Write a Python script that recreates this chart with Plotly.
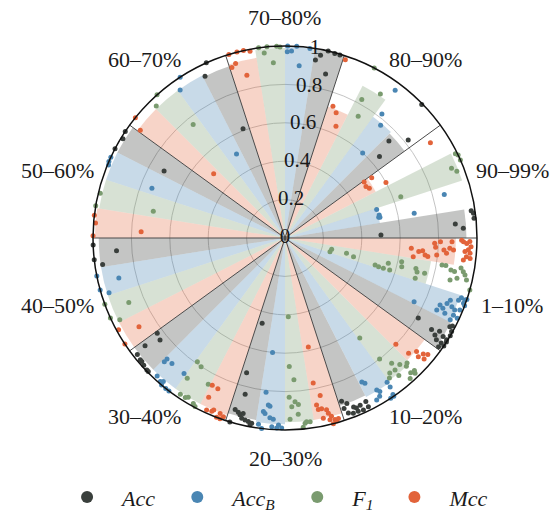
import math
import plotly.graph_objects as go

categories = ["1–10%", "10–20%", "20–30%", "30–40%", "40–50%",
              "50–60%", "60–70%", "70–80%", "80–90%", "90–99%"]
metric_names = ["<i>Acc</i>", "<i>Acc<sub>B</sub></i>", "<i>F<sub>1</sub></i>", "<i>Mcc</i>"]
# order of the metric wedges inside a sector, going clockwise: Mcc, F1, AccB, Acc
wedge_slot = [3, 2, 1, 0]

point_colors = ["#3a3f3c", "#4a86b3", "#7a9b6f", "#e2633a"]
bar_colors = ["rgba(58,63,60,0.30)", "rgba(74,134,179,0.30)",
              "rgba(122,155,111,0.30)", "rgba(226,99,58,0.28)"]

# bar (shaded wedge) heights per category
bar_acc = [0.97, 0.92, 0.96, 0.97, 0.97, 0.98, 0.94, 1.0, 0.77, 0.945]
bar_accb = [0.96, 0.93, 0.97, 0.97, 0.97, 0.98, 0.95, 1.0, 0.78, 0.50]
bar_f1 = [0.77, 0.92, 0.96, 0.97, 0.97, 0.98, 0.95, 0.99, 0.89, 0.97]
bar_mcc = [0.89, 0.90, 0.96, 0.97, 0.97, 0.99, 0.95, 0.95, 0.72, 0.53]

# individual points: radial values and angular offsets (deg) inside each wedge
acc_r = [
    [0.81, 0.90, 0.93, 0.94, 0.97, 0.995, 0.975, 0.995, 0.98, 1.0, 1.0, 1.0, 0.985, 0.95, 0.98],
    [0.90, 0.92, 0.95, 0.96, 0.955, 0.95, 0.98, 0.98, 0.985, 0.98, 0.97, 0.94],
    [0.46, 0.73, 0.84, 0.93, 0.94, 0.94, 0.95, 0.975, 0.99, 0.98, 0.97, 0.966, 1.0],
    [0.83, 0.84, 0.92, 0.98, 0.985, 0.985, 0.99, 0.995, 0.995],
    [0.88, 0.96, 1.0, 1.0],
    [0.72, 1.0, 0.99, 1.0],
    [0.61, 0.94, 1.0],
    [0.94, 0.88, 0.97, 1.0, 0.995, 0.995],
    [0.74, 0.65, 0.82, 0.995],
    [0.50, 0.89, 0.93, 0.98, 0.99, 0.99],
]
acc_off = [
    [0.5, -0.5, -1.4, 0.4, -0.4, -0.7, 3.2, 2.2, -2.4, -2.7, -1.3, 0.9, 3.8, -2.4, -3.8],
    [-3.4, -2, -0.4, 0.3, 1.7, 3.8, -1.2, 0.4, 2, 3.8, -2.6, -3.4],
    [-1.5, -2.4, -0.8, -2.7, -1.5, 0.1, -0.8, 2.2, 2.9, 3.3, 1.1, 0, -3.2],
    [-3.8, -1.3, -2.9, -2.2, -0.4, 0.3, 1.5, 3.2, 3.8],
    [-0.2, 3.8, 2, -2.4],
    [2.5, 3.8, 0, -2.2],
    [-1.5, 3.8, 1.7],
    [3.8, -0.4, 2.5, 0.5, -1.6, -3.2],
    [2.5, 0.3, -2, 3.8],
    [-2.7, 0.2, -1.4, 3.8, 3, 1.5],
]
accb_r = [
    [0.75, 0.875, 0.88, 0.90, 0.91, 0.92, 0.94, 0.96, 0.96, 0.97, 0.99, 0.985, 0.99, 1.0, 1.0, 0.965, 0.99, 0.96, 0.92],
    [0.85, 0.864, 0.925, 0.94, 0.92, 0.95, 0.99, 1.0, 1.0, 0.97, 0.96],
    [0.60, 0.81, 0.874, 0.88, 0.91, 0.92, 0.94, 0.946, 0.985, 0.99, 0.99, 0.975, 0.98, 1.0],
    [0.90, 0.88, 0.88, 0.98, 0.99, 0.98, 0.88, 1.0, 1.0, 1.0],
    [0.89, 0.96, 1.0, 1.0],
    [0.74, 0.995, 1.0, 1.0],
    [0.505, 0.945, 1.0],
    [0.97, 0.975, 0.90, 1.0, 1.0, 0.995],
    [0.82, 0.77, 0.60, 0.96],
    [0.50, 0.505, 0.50, 0.506, 0.685, 0.86],
]
accb_off = [
    [-3.8, -2.9, -0.9, -1.5, 0.5, 1.9, 0.1, -0.5, 2.8, 3.8, 2.4, 0.1, 3.5, 1.8, 3.8, -2.1, -2.5, -3.8, -2.7],
    [-3.4, -2.7, -0.4, 0.2, 3.8, 3.7, 3.1, 3, 1.9, -2, -0.6],
    [-1.7, -2.5, -1.2, -0.6, -2.6, -2, -0.3, 0.8, 0.5, 2, 3.5, 2.5, -3.6, -2.5],
    [-3.8, -3.8, -1.5, -2.3, -0.5, 0.2, 3.8, 2.1, 3.3, 0.5],
    [0, 3.8, 2.2, -2.1],
    [2, 0, -1, -2.4],
    [-1.5, 3.8, 1.6],
    [3.8, 2.5, -0.2, 3.7, 1, -3],
    [2.5, 0.2, -1.9, 3.8],
    [3.8, 0.2, -1, -1.2, -2.7, 1.8],
]
f1_r = [
    [0.245, 0.25, 0.33, 0.37, 0.49, 0.51, 0.536, 0.554, 0.57, 0.62, 0.626, 0.70, 0.71, 0.71, 0.75,
     0.83, 0.85, 0.88, 0.90, 0.92, 0.93, 0.945, 0.957, 0.887, 0.97, 1.0],
    [0.65, 0.80, 0.857, 0.895, 0.89, 0.92, 0.91, 0.93, 0.96, 0.977, 0.965, 0.98, 0.89, 0.91],
    [0.41, 0.67, 0.74, 0.83, 0.854, 0.88, 0.87, 0.92, 0.945, 0.97, 0.963, 0.966, 0.99],
    [0.79, 0.80, 0.89, 0.86, 0.98, 0.98, 0.97, 0.985, 0.995],
    [0.88, 0.96, 1.0, 1.0],
    [0.70, 0.99, 1.0],
    [0.76, 0.96, 1.0],
    [1.0, 0.97, 0.915, 1.0, 1.0, 0.995],
    [0.825, 0.74, 0.90, 1.0],
    [0.64, 0.94, 0.96, 0.99, 1.0, 1.0],
]
f1_off = [
    [-3.5, -0.1, -0.4, -1.8, -3.2, -3.6, -3.6, -0.3, -3.5, 2, -0.3, 0.4, -0.9, -3.7, -0.7,
     3.7, 3.8, 2.6, 2.3, 0.3, 3.8, 2.8, 1.9, -0.8, 0.5, -2.2],
    [-3.7, -2.5, -0.1, -0.7, 1.7, 2.9, 3.8, -0.9, 2.5, 3.4, 3.8, 1.2, -2.7, -3.8],
    [-2.1, -2.6, -0.9, -3, -1, -2.2, 0.1, -0.2, -2.9, 1.7, 2.2, 3.3, 1],
    [-3.8, -1.6, -3.4, 3.8, -2.3, -0.5, 0.2, 2.5, 3.4],
    [-0.1, 3.8, 2.1, -2.3],
    [2, -0.1, 3.8],
    [-1.5, 3.8, 1.3],
    [3.4, 1.9, -0.7, 0.9, -2, -3],
    [2.5, 0.5, -2, 3.8],
    [-2.9, 0.2, -1.3, 3.8, 3.1, 1.5],
]
mcc_r = [
    [0.66, 0.70, 0.72, 0.675, 0.735, 0.78, 0.786, 0.81, 0.83, 0.845, 0.86, 0.88, 0.795, 0.75,
     0.92, 0.93, 0.947, 0.963, 0.97, 0.957, 0.94, 0.967, 0.95, 0.97, 0.936, 0.87],
    [0.80, 0.88, 0.905, 0.93, 0.94, 0.96, 0.96],
    [0.58, 0.77, 0.84, 0.885, 0.91, 0.91, 0.92, 0.94, 0.96, 0.96, 0.98, 0.99, 1.0, 0.98, 0.975],
    [0.855, 0.86, 0.92, 0.985, 0.98, 0.97, 1.0, 1.0, 0.985, 0.974],
    [0.89, 0.99, 1.0],
    [0.75, 0.99, 1.0, 1.0],
    [0.50, 0.94, 1.0],
    [1.0, 1.0, 1.0, 0.99, 0.945, 0.93, 0.87],
    [0.73, 0.705, 0.64, 0.98],
    [0.505, 0.55, 0.50, 0.51, 0.60, 0.905],
]
mcc_off = [
    [-0.1, -1.3, -0.8, -3.8, -2.4, 2.5, 1, 3.1, 0.2, -0.9, 0.9, 0.4, -1.9, -2.9,
     3.8, 3.3, 2.8, 3.4, 1.8, 0.8, 0.2, -0.2, -1.4, -1.8, -2.5, 3.2],
    [-3.3, -2.5, -0.3, -1.2, 0.5, -0.5, 1.3],
    [-1.4, -2.5, -0.9, -2.8, -2.5, -1.4, 0.1, 0.4, -1.5, 1.1, 1.9, 2.2, 1.1, 3, 0.4],
    [-3.8, -1.5, -3.1, -2, -0.4, 0, 1.6, 2.7, 3.5, 2.2],
    [-0.2, -2.6, 2],
    [2, 0, -2.3, 3.8],
    [-1.5, 3.8, 1.7],
    [3.5, 1, -1, -2.9, 2.3, 3.8, -0.3],
    [2.5, 0.3, -2, 3.8],
    [3.8, 3.3, 1, -1, -2.7, 1.7],
]

radial_ticks = [0, 0.2, 0.4, 0.6, 0.8, 1]
radial_ticktext = ["0", "0.2", "0.4", "0.6", "0.8", "1"]

FONT = "Liberation Serif"
TXT = "#1a1a1a"
W, H = 560, 514
CX, CY, RAD = 285, 238, 192   # polar disc centre and radius in pixels
n_cat = len(categories)
sector = 360 / n_cat
wedge = sector / 4
rmax = radial_ticks[-1]
RLABEL_ANGLE = 81          # direction along which radial tick labels sit
LBL_R0, LBL_HW, LBL_HH = 1.094, 0.150, 0.052   # category label box placement (radius units)


def wedge_center(k, m):
    # categories go clockwise starting just below east
    return -(sector * k) - wedge * wedge_slot[m] - wedge / 2


bars = [bar_acc, bar_accb, bar_f1, bar_mcc]
pts_r = [acc_r, accb_r, f1_r, mcc_r]
pts_off = [acc_off, accb_off, f1_off, mcc_off]

fig = go.Figure()

for m in range(4):
    fig.add_trace(go.Barpolar(
        r=bars[m],
        theta=[wedge_center(k, m) for k in range(n_cat)],
        width=[wedge] * n_cat,
        marker=dict(color=bar_colors[m], line=dict(width=0)),
        showlegend=False, hoverinfo="skip",
    ))

# sector boundary lines
bl_r, bl_t = [], []
for k in range(n_cat):
    bl_r += [0, rmax, None]
    bl_t += [-sector * k, -sector * k, None]
fig.add_trace(go.Scatterpolar(
    r=bl_r, theta=bl_t, mode="lines",
    line=dict(color="#4a4a4a", width=1),
    showlegend=False, hoverinfo="skip",
))

for m in range(4):
    rr, tt = [], []
    for k in range(n_cat):
        c = wedge_center(k, m)
        rr += pts_r[m][k]
        tt += [c + o for o in pts_off[m][k]]
    fig.add_trace(go.Scatterpolar(
        r=rr, theta=tt, mode="markers", name=metric_names[m],
        marker=dict(color=point_colors[m], size=5),
        cliponaxis=False,
    ))

# radial tick labels, centred on the label direction
fig.add_trace(go.Scatterpolar(
    r=radial_ticks, theta=[RLABEL_ANGLE] * len(radial_ticks),
    mode="text", text=radial_ticktext, textposition="middle center",
    textfont=dict(family=FONT, size=21, color=TXT),
    showlegend=False, hoverinfo="skip", cliponaxis=False,
))

# category labels around the circle (outside the polar range -> annotations)
annotations = []
for k in range(n_cat):
    a = math.radians(-(sector * k) - sector / 2)
    px = CX + (LBL_R0 + LBL_HW) * math.cos(a) * RAD
    py = CY - (LBL_R0 + LBL_HH) * math.sin(a) * RAD
    annotations.append(dict(
        x=px / W, y=1 - py / H, xref="paper", yref="paper",
        text=categories[k], showarrow=False,
        xanchor="center", yanchor="middle",
        font=dict(family=FONT, size=22, color=TXT),
    ))

fig.update_layout(
    width=W, height=H,
    margin=dict(l=0, r=0, t=0, b=0, autoexpand=False),
    paper_bgcolor="white",
    font=dict(family=FONT, size=22, color=TXT),
    showlegend=True,
    annotations=annotations,
    legend=dict(
        orientation="h", x=0.093, xanchor="left", y=-0.008, yanchor="bottom",
        itemwidth=60, itemsizing="constant",
        font=dict(family=FONT, size=22, color=TXT),
        bgcolor="rgba(0,0,0,0)",
    ),
    polar=dict(
        domain=dict(x=[(CX - RAD) / W, (CX + RAD) / W],
                    y=[(H - CY - RAD) / H, (H - CY + RAD) / H]),
        bgcolor="white",
        barmode="overlay",
        angularaxis=dict(
            direction="counterclockwise", rotation=0, thetaunit="degrees",
            showticklabels=False, ticks="",
            showgrid=False,
            showline=True, linecolor="#111111", linewidth=1.5,
        ),
        radialaxis=dict(
            range=[0, rmax], angle=RLABEL_ANGLE,
            tickmode="array", tickvals=radial_ticks,
            showticklabels=False, showline=False, ticks="",
            showgrid=True, gridcolor="#c4c4c4", gridwidth=1,
        ),
    ),
)

fig.write_html("out.html")
